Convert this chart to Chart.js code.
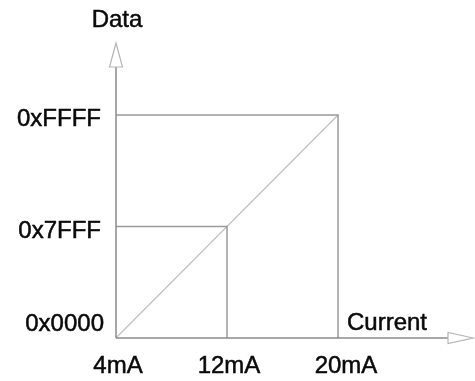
<!DOCTYPE html>
<html>
<head>
<meta charset="utf-8">
<script src="https://cdn.jsdelivr.net/npm/chart.js@4.4.1/dist/chart.umd.min.js"></script>
<style>
  html, body { margin: 0; padding: 0; background: #fff; }
  #wrap { width: 475px; height: 381px; }
</style>
</head>
<body>
<div id="wrap"><canvas id="chart"></canvas></div>
<script>
// current (mA) on x, DAC code on y
const currentTicks = [4, 12, 20];
const currentLabels = ["4mA", "12mA", "20mA"];
const dataTicks = [0, 32767, 65535];
const dataLabels = ["0x0000", "0x7FFF", "0xFFFF"];

// transfer line and the two guide lines
const transferX = [4, 20];
const transferY = [0, 65535];
const guideFullX = [4, 20, 20];
const guideFullY = [65535, 65535, 0];
const guideHalfX = [4, 12, 12];
const guideHalfY = [32767, 32767, 0];

const xTitle = "Current";
const yTitle = "Data";

function pts(xs, ys) {
  return xs.map((x, i) => ({ x: x, y: ys[i] }));
}

const FONT = "24px 'Liberation Sans', Arial, sans-serif";

// axes with hollow arrow heads, and all the text
const axesPlugin = {
  id: "axesPlugin",
  afterDatasetsDraw(chart) {
    const ctx = chart.ctx;
    const xs = chart.scales.x;
    const ys = chart.scales.y;
    const ox = xs.getPixelForValue(currentTicks[0]);
    const oy = ys.getPixelForValue(dataTicks[0]);
    const area = chart.chartArea;

    ctx.save();
    ctx.strokeStyle = "#8a8a8a";
    ctx.lineWidth = 1.5;

    // y axis
    ctx.beginPath();
    ctx.moveTo(ox, oy);
    ctx.lineTo(ox, area.top + 24);
    ctx.stroke();
    // x axis
    ctx.beginPath();
    ctx.moveTo(ox, oy);
    ctx.lineTo(area.right - 26, oy);
    ctx.stroke();

    ctx.strokeStyle = "#b5b5b5";
    ctx.lineWidth = 1.2;
    ctx.beginPath();
    ctx.moveTo(ox, area.top);
    ctx.lineTo(ox - 6.5, area.top + 24);
    ctx.lineTo(ox + 6.5, area.top + 24);
    ctx.closePath();
    ctx.stroke();

    ctx.beginPath();
    ctx.moveTo(area.right - 1, oy);
    ctx.lineTo(area.right - 26, oy - 5.5);
    ctx.lineTo(area.right - 26, oy + 5.5);
    ctx.closePath();
    ctx.stroke();

    // text, slightly heavier like the scanned original
    ctx.fillStyle = "#0a0a0a";
    ctx.strokeStyle = "#0a0a0a";
    ctx.lineWidth = 0.5;
    ctx.font = FONT;
    ctx.textBaseline = "alphabetic";
    const put = (s, x, y) => { ctx.fillText(s, x, y); ctx.strokeText(s, x, y); };

    ctx.textAlign = "right";
    dataTicks.forEach((v, i) => {
      const py = ys.getPixelForValue(v);
      const base = i === 0 ? py - 7.5 : py + 11;
      put(dataLabels[i], i === 0 ? 104 : 101, base);
    });

    ctx.textAlign = "center";
    currentTicks.forEach((v, i) => {
      const px = xs.getPixelForValue(v);
      put(currentLabels[i], px + (i === 2 ? 8 : 2), oy + 35);
    });

    put(yTitle, ox + 1, 27);
    ctx.textAlign = "left";
    put(xTitle, 347, oy - 8);
    ctx.restore();
  }
};

new Chart(document.getElementById("chart"), {
  type: "scatter",
  data: {
    datasets: [
      {
        data: pts(guideFullX, guideFullY),
        showLine: true,
        borderColor: "#9a9a9a",
        borderWidth: 1.5,
        pointRadius: 0,
      },
      {
        data: pts(guideHalfX, guideHalfY),
        showLine: true,
        borderColor: "#9a9a9a",
        borderWidth: 1.5,
        pointRadius: 0,
      },
      {
        data: pts(transferX, transferY),
        showLine: true,
        borderColor: "#c2c2c2",
        borderWidth: 1.3,
        pointRadius: 0,
      },
    ],
  },
  options: {
    responsive: true,
    maintainAspectRatio: false,
    animation: false,
    layout: { padding: { left: 116, right: 1, top: 43, bottom: 43 } },
    plugins: { legend: { display: false }, tooltip: { enabled: false } },
    scales: {
      x: { type: "linear", display: false, min: 4, max: 29.8 },
      y: { type: "linear", display: false, min: 0, max: 86693 },
    },
  },
  plugins: [axesPlugin],
});
</script>
</body>
</html>
